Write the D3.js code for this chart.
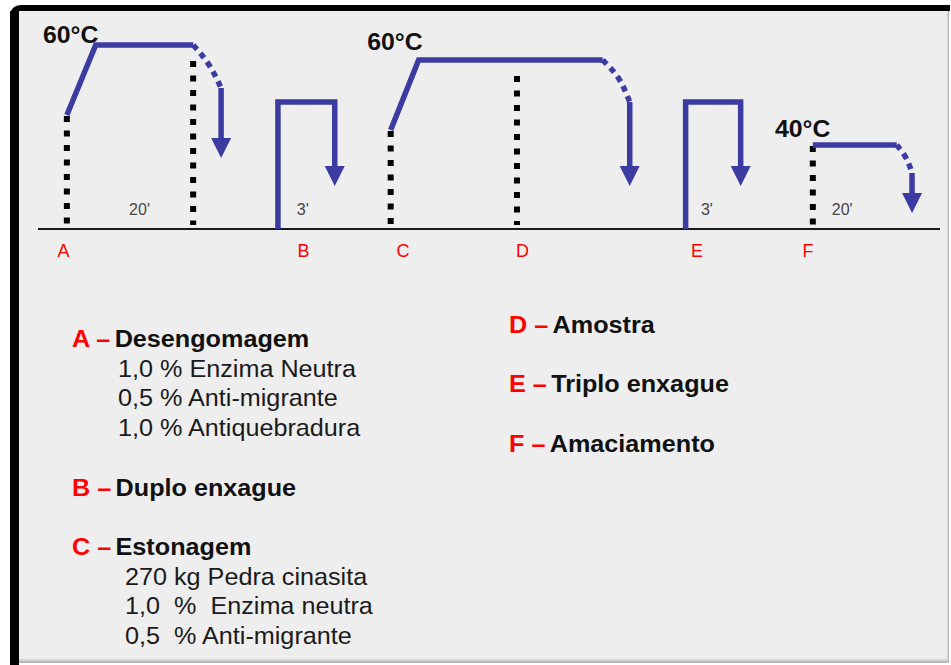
<!DOCTYPE html>
<html><head><meta charset="utf-8">
<script src="https://cdn.jsdelivr.net/npm/d3@7"></script>
<style>
html,body{margin:0;padding:0;background:#fff;}
svg{display:block;font-family:"Liberation Sans",Arial,sans-serif;}
text{white-space:pre;}
</style></head>
<body>
<script>
// ---- data (schematic units: position 0-100 along the process, level 0-100 above the baseline)
const stages = ["A","B","C","D","E","F"];
const stageX = [2.83, 29.43, 40.47, 53.71, 73.06, 85.37];

// hot baths: ramp + hold
const bathA = [[3.2,57],[6.4,92],[17.2,92]];
const bathC = [[39.1,49.5],[42.2,84.5],[62.6,84.5]];
const bathF = [[85.9,42],[95.2,42]];
// cooling (dashed) segments
const coolA = [[17.2,92],[19.0,83],[20.3,70.5]];
const coolC = [[62.6,84.5],[64.5,76],[65.6,63.5]];
const coolF = [[95.2,42],[96.3,36],[96.9,28]];
// drains (arrow tip is the last point)
const drainA = [[20.3,70.5],[20.3,35.5]];
const drainC = [[65.6,63.5],[65.6,21.5]];
const drainF = [[96.9,28],[96.9,8]];
// rinses: fill, run, drain
const rinseB = [[26.6,0],[26.6,63.5],[32.9,63.5],[32.9,21.5]];
const rinseE = [[71.8,0],[71.8,63.5],[77.9,63.5],[77.9,21.5]];
// dotted guides [x, top level]
const guides = [[3.2,57],[17.2,84.5],[39.1,49.5],[53.1,77],[85.9,42]];
const guideBottom = 3.5;
// temperature labels [text, x, level]
const tempLabels = [["60°C",0.55,93],["60°C",36.5,89.5],["40°C",81.7,46]];
// duration labels [text, x, level]
const durLabels = [["20'",10.1,7],["3'",28.7,7],["3'",73.5,7],["20'",88.0,7]];

// legend
const legendLeft = [
  {key:"A", title:"Desengomagem", indent:118, items:["1,0 % Enzima Neutra","0,5 % Anti-migrante","1,0 % Antiquebradura"]},
  {key:"B", title:"Duplo enxague", indent:118, items:[]},
  {key:"C", title:"Estonagem", indent:125, items:["270 kg Pedra cinasita","1,0  %  Enzima neutra","0,5  % Anti-migrante"]}
];
const legendRight = [
  {key:"D", title:"Amostra", items:[]},
  {key:"E", title:"Triplo enxague", items:[]},
  {key:"F", title:"Amaciamento", items:[]}
];

// ---- drawing
const W = 951, H = 665;
const svg = d3.select("body").append("svg").attr("width",W).attr("height",H);

// frame
svg.append("path")
  .attr("d","M10,700 L10,17 Q10,5 22,5 L950,5 L950,11 L19,11 L19,700 Z")
  .attr("fill","#000");
svg.append("rect").attr("x",19).attr("y",11).attr("width",930).attr("height",652).attr("fill","#b8b8b8");
svg.append("rect").attr("x",19).attr("y",11).attr("width",929).attr("height",650).attr("fill","#d6d6d6");
svg.append("rect").attr("x",19).attr("y",11).attr("width",928).attr("height",648).attr("fill","#eeeeee");
svg.append("rect").attr("x",10).attr("y",11).attr("width",9).attr("height",660).attr("fill","#000");

const x = d3.scaleLinear().domain([0,100]).range([38,940]);
const y = d3.scaleLinear().domain([0,100]).range([229,29]);
const line = d3.line().x(d=>x(d[0])).y(d=>y(d[1]));
const curve = d3.line().x(d=>x(d[0])).y(d=>y(d[1])).curve(d3.curveBasis);

const BLUE = "#3b3ba2";

// baseline
svg.append("line").attr("x1",x(0)).attr("x2",x(100)).attr("y1",y(0)).attr("y2",y(0))
  .attr("stroke","#1a1a1a").attr("stroke-width",2);

// dotted guides
svg.append("g").selectAll("line").data(guides).join("line")
  .attr("x1",d=>x(d[0])).attr("x2",d=>x(d[0]))
  .attr("y1",d=>y(d[1])+1).attr("y2",y(guideBottom)+3)
  .attr("stroke","#000").attr("stroke-width",6).attr("stroke-dasharray","6,8.5");

const g = svg.append("g").attr("fill","none").attr("stroke",BLUE).attr("stroke-width",5.5)
  .attr("stroke-linejoin","miter");
[bathA,bathC,bathF].forEach(p=>g.append("path").attr("d",line(p)));
[coolA,coolC,coolF].forEach(p=>g.append("path").attr("d",curve(p)).attr("stroke-dasharray","6,5"));

const AH = 20, AW = 10;
function arrowPath(p){
  const pts = p.map(d=>[x(d[0]),y(d[1])]);
  const tip = pts[pts.length-1];
  const trimmed = pts.slice(0,-1).concat([[tip[0], tip[1]-AH+2]]);
  g.append("path").attr("d",d3.line()(trimmed));
  svg.append("path").attr("fill",BLUE)
    .attr("d",`M${tip[0]-AW},${tip[1]-AH}L${tip[0]+AW},${tip[1]-AH}L${tip[0]},${tip[1]}Z`);
}
[drainA,drainC,drainF,rinseB,rinseE].forEach(arrowPath);

// temperature labels
svg.append("g").selectAll("text").data(tempLabels).join("text")
  .attr("transform",d=>`translate(${x(d[1])},${y(d[2])}) scale(1.08,1)`)
  .attr("font-size",23).attr("font-weight","bold").attr("fill","#111")
  .text(d=>d[0]);
// duration labels
svg.append("g").selectAll("text").data(durLabels).join("text")
  .attr("x",d=>x(d[1])).attr("y",d=>y(d[2]))
  .attr("font-size",16).attr("fill","#444")
  .text(d=>d[0]);
// stage letters
svg.append("g").selectAll("text").data(stages).join("text")
  .attr("x",(d,i)=>x(stageX[i])).attr("y",y(0)+28)
  .attr("text-anchor","middle").attr("font-size",18).attr("fill","#ff0000")
  .text(d=>d);

// legend
const SX = 1.05;
function legend(groups, x0, y0){
  let yy = y0;
  groups.forEach(grp=>{
    const t = svg.append("text").attr("transform",`translate(${x0},${yy}) scale(${SX},1)`)
      .attr("font-size",24).attr("font-weight","bold");
    t.append("tspan").attr("fill","#ff0000").text(grp.key+" – ");
    t.append("tspan").attr("fill","#111").attr("dx",-2.5).text(grp.title);
    yy += 29.7;
    grp.items.forEach(it=>{
      svg.append("text").attr("transform",`translate(${grp.indent},${yy}) scale(${SX},1)`)
        .attr("font-size",24).attr("fill","#1a1a1a").text(it);
      yy += 29.7;
    });
    yy += 29.7;
  });
}
legend(legendLeft, 72, 347);
legend(legendRight, 509, 333);
</script>
</body></html>
